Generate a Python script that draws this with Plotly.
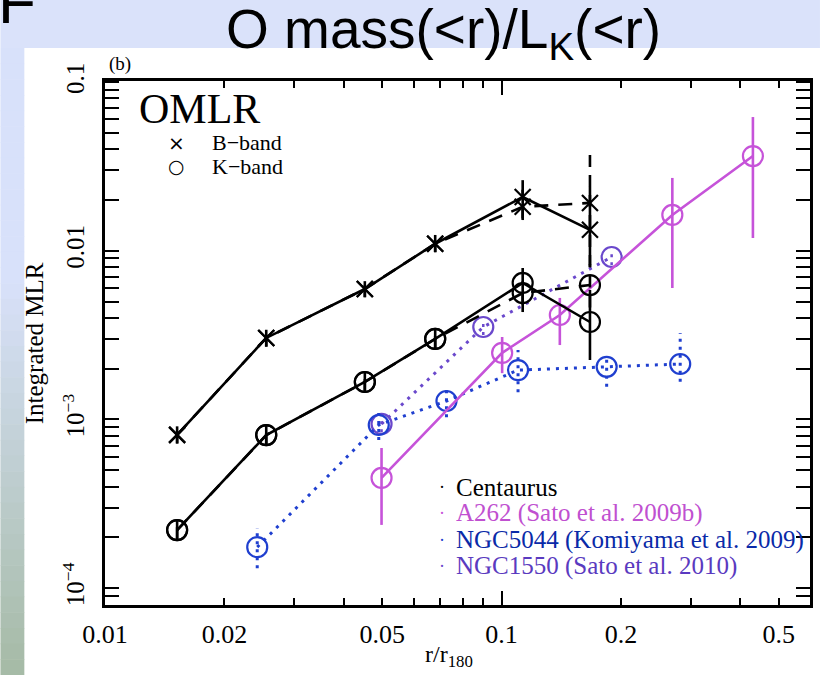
import plotly.graph_objects as go

# ---------------- data ----------------
r_cen = [0.0152, 0.0255, 0.0452, 0.068, 0.113, 0.167]

B_solid = [8.1e-4, 3.04e-3, 5.93e-3, 0.0110, 0.0208, 0.0133]
B_solid_lo = [7.2e-4, 2.70e-3, 5.30e-3, 9.8e-3, 0.0152, 8.2e-3]
B_solid_hi = [9.1e-4, 3.40e-3, 6.60e-3, 0.0124, 0.0262, 0.0239]

B_dash = [8.1e-4, 3.04e-3, 5.93e-3, 0.0110, 0.0182, 0.0192]
B_dash_lo = [7.2e-4, 2.70e-3, 5.30e-3, 9.8e-3, 0.0155, 8.0e-3]
B_dash_hi = [9.1e-4, 3.40e-3, 6.60e-3, 0.0124, 0.0230, 0.0369]

K_solid = [2.21e-4, 8.08e-4, 1.667e-3, 3.0e-3, 6.44e-3, 3.78e-3]
K_solid_lo = [1.95e-4, 7.1e-4, 1.47e-3, 2.65e-3, 4.33e-3, 2.25e-3]
K_solid_hi = [2.50e-4, 9.2e-4, 1.89e-3, 3.40e-3, 7.90e-3, 5.85e-3]

K_dash = [2.21e-4, 8.08e-4, 1.667e-3, 3.0e-3, 5.61e-3, 6.26e-3]
K_dash_lo = [1.95e-4, 7.1e-4, 1.47e-3, 2.65e-3, 4.80e-3, 4.60e-3]
K_dash_hi = [2.50e-4, 9.2e-4, 1.89e-3, 3.40e-3, 6.60e-3, 8.30e-3]

r_a262 = [0.0498, 0.1003, 0.1402, 0.2694, 0.4301]
y_a262 = [4.50e-4, 2.48e-3, 4.16e-3, 0.01629, 0.0364]
lo_a262 = [2.37e-4, 1.88e-3, 2.76e-3, 6.01e-3, 0.01189]
hi_a262 = [6.77e-4, 3.08e-3, 5.25e-3, 0.0270, 0.062]

r_n5044 = [0.0242, 0.0490, 0.0726, 0.110, 0.184, 0.282]
y_n5044 = [1.75e-4, 9.27e-4, 1.286e-3, 1.96e-3, 2.05e-3, 2.13e-3]
lo_n5044 = [1.31e-4, 7.55e-4, 1.03e-3, 1.45e-3, 1.56e-3, 1.67e-3]
hi_n5044 = [2.27e-4, 1.14e-3, 1.58e-3, 2.58e-3, 2.41e-3, 3.25e-3]

r_n1550 = [0.0498, 0.0899, 0.1894]
y_n1550 = [9.4e-4, 3.53e-3, 9.18e-3]
lo_n1550 = [8.4e-4, 3.17e-3, 8.2e-3]
hi_n1550 = [1.05e-3, 3.94e-3, 1.02e-2]

x_tick_vals = [0.01, 0.02, 0.05, 0.1, 0.2, 0.5]
x_tick_text = ["0.01", "0.02", "0.05", "0.1", "0.2", "0.5"]
y_tick_vals = [1e-4, 1e-3, 1e-2, 1e-1]
y_tick_text = ["10<sup>\u22124</sup>", "10<sup>\u22123</sup>", "0.01", "0.1"]

legend_labels = ["Centaurus", "A262 (Sato et al. 2009b)",
                 "NGC5044 (Komiyama et al. 2009)", "NGC1550 (Sato et al. 2010)"]

# ---------------- styling ----------------
BLACK = "#000000"
MAGENTA = "#c653d9"
BLUE = "#1f3fcf"
PURPLE = "#6a48cc"
legend_text_colors = ["#000000", "#c050d0", "#0a2aa8", "#5a3ac0"]
legend_dot_colors = [BLACK, MAGENTA, BLUE, PURPLE]

W, H = 823, 675
ML, MR, MT, MB = 105, 10, 81, 70
PW, PH = W - ML - MR, H - MT - MB


def px(x):
    return (x - ML) / PW


def py(y):
    return (H - MB - y) / PH


def err_segments(xs, lo, hi):
    sx, sy = [], []
    for xv, l, h in zip(xs, lo, hi):
        sx += [xv, xv, None]
        sy += [l, h, None]
    return sx, sy


fig = go.Figure()


def add_series(xs, ys, lo, hi, color, dash, symbol, msize, lw, ewidth, edash):
    ex, ey = err_segments(xs, lo, hi)
    fig.add_trace(go.Scatter(x=ex, y=ey, mode="lines",
                             line=dict(color=color, width=ewidth, dash=edash),
                             showlegend=False, hoverinfo="skip"))
    fig.add_trace(go.Scatter(x=xs, y=ys, mode="lines+markers",
                             line=dict(color=color, width=lw, dash=dash),
                             marker=dict(symbol=symbol, size=msize, color=color,
                                         line=dict(color=color, width=2.2)),
                             showlegend=False))


# NGC1550 (purple dotted)
add_series(r_n1550, y_n1550, lo_n1550, hi_n1550, PURPLE, "3px,6px", "circle-open", 20, 3, 2.5, "3px,5px")
# NGC5044 (blue dotted)
add_series(r_n5044, y_n5044, lo_n5044, hi_n5044, BLUE, "3px,6px", "circle-open", 20, 3, 3, "3px,5px")
# A262 (magenta solid)
add_series(r_a262, y_a262, lo_a262, hi_a262, MAGENTA, "solid", "circle-open", 20, 2.6, 2.6, "solid")
# Centaurus dashed
add_series(r_cen, B_dash, B_dash_lo, B_dash_hi, BLACK, "14px,10px", "x-thin-open", 16, 2.6, 2.6, "12px,8px")
add_series(r_cen, K_dash, K_dash_lo, K_dash_hi, BLACK, "14px,10px", "circle-open", 20, 2.6, 2.6, "12px,8px")
# Centaurus solid
add_series(r_cen, B_solid, B_solid_lo, B_solid_hi, BLACK, "solid", "x-thin-open", 16, 2.6, 2.6, "solid")
add_series(r_cen, K_solid, K_solid_lo, K_solid_hi, BLACK, "solid", "circle-open", 20, 2.6, 2.6, "solid")

# empty trace to host the overlay axis carrying long decade ticks on x
fig.add_trace(go.Scatter(x=[], y=[], xaxis="x2", showlegend=False))

x_minor = [0.03, 0.04, 0.06, 0.07, 0.08, 0.09, 0.3, 0.4]
y_minor = [m * 10 ** e for e in (-5, -4, -3, -2) for m in range(2, 10)]

XR = [-2.0, -0.2225]
YR = [-4.10, -0.994]

fig.update_layout(
    width=W, height=H, autosize=False,
    margin=dict(l=ML, r=MR, t=MT, b=MB, pad=0),
    paper_bgcolor="white", plot_bgcolor="white",
    showlegend=False,
    xaxis=dict(type="log", range=XR, tickmode="array", tickvals=x_tick_vals, ticktext=x_tick_text,
               ticks="inside", ticklen=7, tickwidth=2.2, tickcolor="black",
               showline=True, linewidth=3, linecolor="black", mirror="allticks",
               showgrid=False, zeroline=False,
               tickfont=dict(family="Liberation Serif", size=26, color="black"),
               ticklabelstandoff=4,
               minor=dict(tickmode="array", tickvals=x_minor, ticks="inside", ticklen=7,
                          tickwidth=2.2, tickcolor="black", showgrid=False)),
    xaxis2=dict(type="log", range=XR, overlaying="x", anchor="y", side="bottom",
                tickmode="array", tickvals=[0.01, 0.1], ticks="inside", ticklen=14,
                tickwidth=2.4, tickcolor="black", showticklabels=False,
                showline=False, mirror="ticks", showgrid=False, zeroline=False),
    yaxis=dict(type="log", range=YR, tickmode="array", tickvals=y_tick_vals, ticktext=y_tick_text,
               tickangle=-90,
               ticks="inside", ticklen=14, tickwidth=2.4, tickcolor="black",
               showline=True, linewidth=3, linecolor="black", mirror="allticks",
               showgrid=False, zeroline=False,
               tickfont=dict(family="Liberation Serif", size=25, color="black"),
               ticklabelstandoff=8,
               minor=dict(tickmode="array", tickvals=y_minor, ticks="inside", ticklen=7,
                          tickwidth=2.2, tickcolor="black", showgrid=False)),
)

# ---------------- slide background ----------------
shapes = []
shapes.append(dict(type="rect", xref="paper", yref="paper", x0=px(0), x1=px(W), y0=py(48), y1=py(0),
                   fillcolor="rgb(218,226,250)", line=dict(width=0), layer="below"))
n = 40
top_c = (216, 225, 250)
bot_c = (165, 186, 165)
y_start = 48
for i in range(n):
    y0 = y_start + (H - y_start) * i / n
    y1 = y_start + (H - y_start) * (i + 1) / n
    ym = (y0 + y1) / 2
    t = max(0.0, (ym - 280) / (H - 280))
    c = tuple(int(round(a + (b - a) * t)) for a, b in zip(top_c, bot_c))
    shapes.append(dict(type="rect", xref="paper", yref="paper", x0=px(0), x1=px(24),
                       y0=py(y1 + 0.5), y1=py(y0), fillcolor="rgb(%d,%d,%d)" % c,
                       line=dict(width=0), layer="below"))
fig.update_layout(shapes=shapes)

# ---------------- text ----------------
ann = []
SERIF = "Liberation Serif"
ann.append(dict(x=px(445), y=py(33), xref="paper", yref="paper", showarrow=False,
                text="O mass(&lt;r)/L<sub>K</sub>(&lt;r)", xanchor="center", yanchor="middle",
                font=dict(family="Liberation Sans", size=55, color="black")))
ann.append(dict(x=px(-4), y=py(38), xref="paper", yref="paper", showarrow=False,
                text="F", xanchor="left", yanchor="bottom",
                font=dict(family="Liberation Sans", size=62, color="black")))
ann.append(dict(x=px(107), y=py(64), xref="paper", yref="paper", showarrow=False,
                text="(b)", xanchor="left", yanchor="middle",
                font=dict(family=SERIF, size=19, color="black")))
ann.append(dict(x=px(137), y=py(109), xref="paper", yref="paper", showarrow=False,
                text="OMLR", xanchor="left", yanchor="middle",
                font=dict(family=SERIF, size=42, color="black")))
ann.append(dict(x=px(177), y=py(143), xref="paper", yref="paper", showarrow=False,
                text="\u00d7", xanchor="center", yanchor="middle",
                font=dict(family="DejaVu Sans", size=20, color="black")))
ann.append(dict(x=px(177), y=py(166), xref="paper", yref="paper", showarrow=False,
                text="\u25cb", xanchor="center", yanchor="middle",
                font=dict(family="DejaVu Sans", size=19, color="black")))
ann.append(dict(x=px(210), y=py(142), xref="paper", yref="paper", showarrow=False,
                text="B\u2212band", xanchor="left", yanchor="middle",
                font=dict(family=SERIF, size=22, color="black")))
ann.append(dict(x=px(210), y=py(166), xref="paper", yref="paper", showarrow=False,
                text="K\u2212band", xanchor="left", yanchor="middle",
                font=dict(family=SERIF, size=22, color="black")))
rows_y = [487, 513, 540, 566]
for lab, tc, dc, yy in zip(legend_labels, legend_text_colors, legend_dot_colors, rows_y):
    ann.append(dict(x=px(443), y=py(yy), xref="paper", yref="paper", showarrow=False,
                    text="\u00b7", xanchor="center", yanchor="middle",
                    font=dict(family=SERIF, size=18, color=dc)))
    ann.append(dict(x=px(455), y=py(yy), xref="paper", yref="paper", showarrow=False,
                    text=lab, xanchor="left", yanchor="middle",
                    font=dict(family=SERIF, size=25, color=tc)))
ann.append(dict(x=px(34), y=py(343), xref="paper", yref="paper", showarrow=False,
                text="Integrated MLR", textangle=-90, xanchor="center", yanchor="middle",
                font=dict(family=SERIF, size=25, color="black")))
ann.append(dict(x=px(450), y=py(656), xref="paper", yref="paper", showarrow=False,
                text="r/r<sub>180</sub>", xanchor="center", yanchor="middle",
                font=dict(family=SERIF, size=24, color="black")))
fig.update_layout(annotations=ann)

fig.write_html("out.html")
